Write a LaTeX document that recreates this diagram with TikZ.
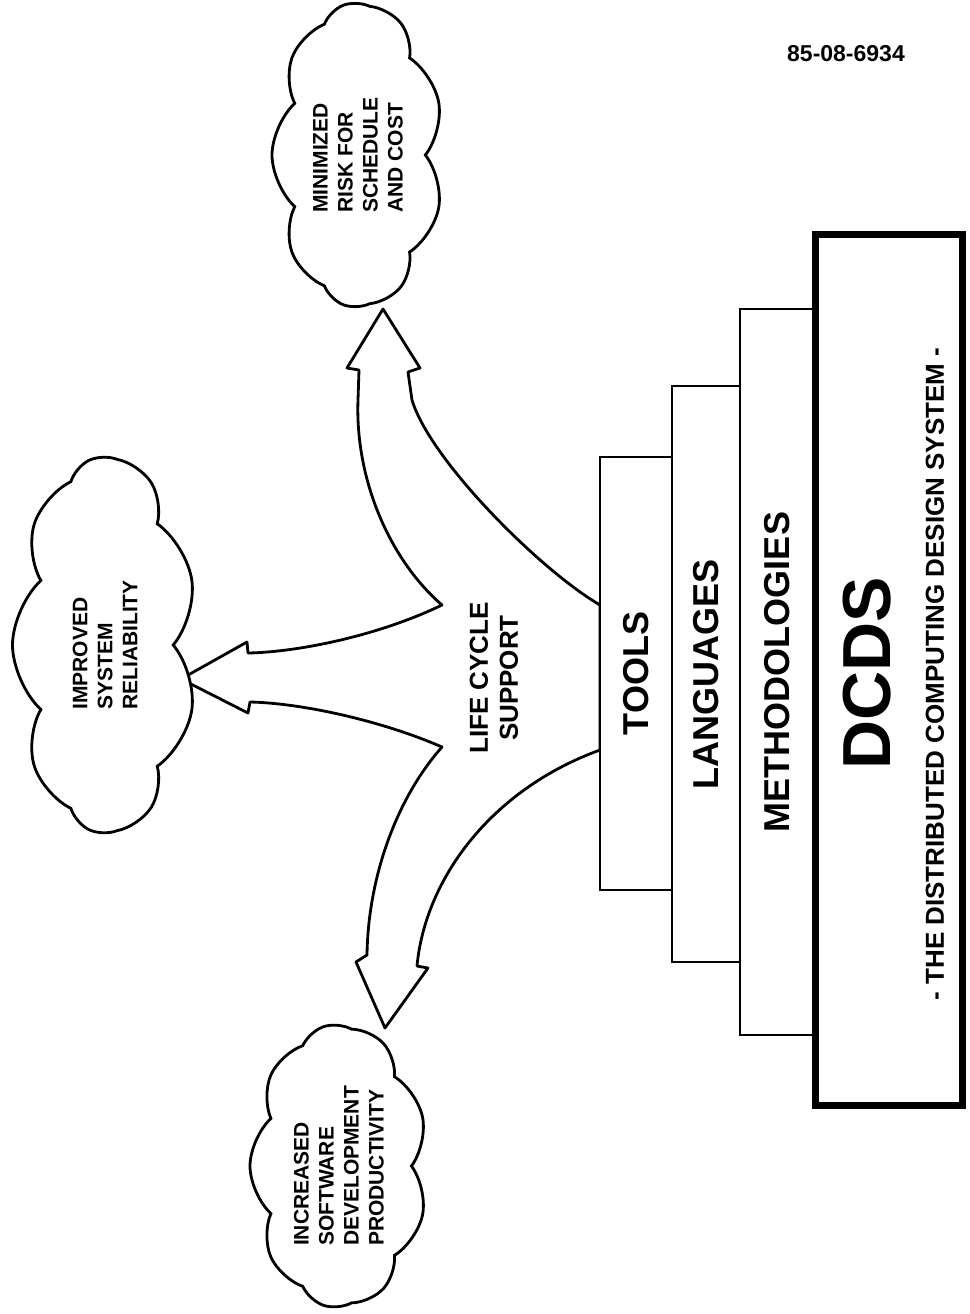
\documentclass[tikz,border=0pt]{standalone}
\usepackage{fontspec}
\setmainfont{Liberation Sans}
\usetikzlibrary{shapes.symbols}

\begin{document}
\begin{tikzpicture}[x=0.5pt, y=-0.5pt, line width=1.4pt,
	tier/.style = {draw, fill=white, rotate=90, inner sep=0pt, font=\bfseries\fontsize{18}{20}\selectfont},
	puff/.style = {draw, fill=white, cloud, cloud puffs=9, cloud puff arc=95, cloud ignores aspect, rotate=90, inner sep=0pt, align=left, font=\bfseries\fontsize{10.5}{12.5}\selectfont}]
		\useasboundingbox (0,0) rectangle (970,1314);

		% tips of the three arrows
		\coordinate (a1) at (383,309);
		\coordinate (a2) at (181,679);
		\coordinate (a3) at (385,1028);

		% the three-way block arrow
		\draw[fill=white, line join=round] (600,605) .. controls (540,570) and (430,460) .. (412,400)
			-- (408,372) -- (420,368) -- (a1) -- (347,368) -- (359,370) -- (358,400)
			.. controls (355,480) and (390,560) .. (442,605)
			.. controls (380,635) and (300,652) .. (248,653)
			-- (247,642) -- (a2) -- (248,713) -- (250,702)
			.. controls (300,703) and (380,720) .. (442,747)
			.. controls (395,800) and (368,880) .. (367,955)
			-- (356,962) -- (a3) -- (428,968) -- (417,966)
			.. controls (425,880) and (490,790) .. (600,750) -- cycle;

		\node[puff, minimum width=152pt, minimum height=86pt] (c1) at (358,155) {MINIMIZED\\RISK FOR\\SCHEDULE\\AND COST};
		\node[puff, minimum width=187.5pt, minimum height=92.5pt] (c2) at (105,645) {IMPROVED\\SYSTEM\\RELIABILITY};
		\node[puff, minimum width=141.5pt, minimum height=89pt] (c3) at (339,1166) {INCREASED\\SOFTWARE\\DEVELOPMENT\\PRODUCTIVITY};

		\node[rotate=90, align=center, font=\bfseries\fontsize{13}{15}\selectfont] (lc) at (494,678) {LIFE CYCLE\\SUPPORT};

		\node[tier, minimum width=216.5pt, minimum height=36pt] (1) at (636,673.5) {TOOLS};
		\node[tier, minimum width=288pt, minimum height=34pt] (2) at (706,674) {LANGUAGES};
		\node[tier, minimum width=363pt, minimum height=37.5pt] (3) at (777.5,672) {METHODOLOGIES};
		\node[tier, line width=3.5pt, minimum width=435.5pt, minimum height=73.5pt] (4) at (888.5,669.5) {};
		\node[rotate=90, font=\bfseries\fontsize{34}{36}\selectfont] (5) at (867,673) {DCDS};
		\node[rotate=90, font=\bfseries\fontsize{13}{15}\selectfont] (6) at (935,674) {- THE DISTRIBUTED COMPUTING DESIGN SYSTEM -};

		\node[font=\bfseries\fontsize{11.5}{13}\selectfont] (7) at (846,54) {85-08-6934};
	\end{tikzpicture}
\end{document}
